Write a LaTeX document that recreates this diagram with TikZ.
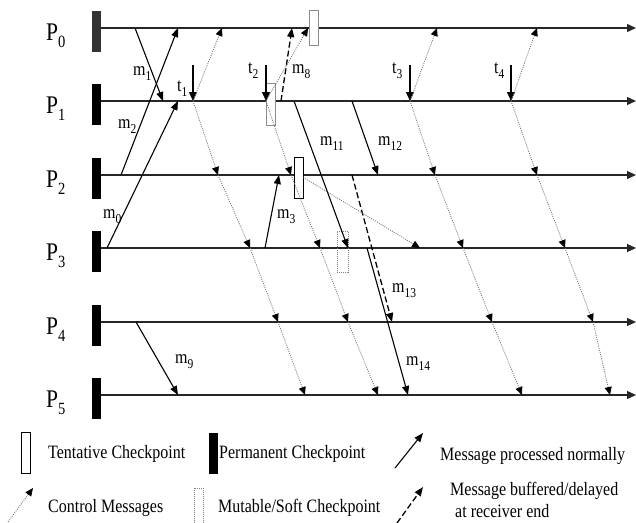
\documentclass[tikz,border=0pt]{standalone}
\usepackage{fontspec}
\usepackage{graphicx}
\setmainfont{Liberation Serif}
\usetikzlibrary{arrows.meta}
% subscripts for message/process labels, and a slightly tall text box
\newcommand\msub[1]{\raisebox{-0.28em}{\fontsize{11.5}{11.5}\selectfont #1}}
\newcommand\psub[1]{\raisebox{-0.28em}{\fontsize{14.5}{14.5}\selectfont #1}}
\newcommand\tall[1]{\scalebox{1}[1.18]{#1}}
\begin{document}
\begin{tikzpicture}[x=1pt,y=-1pt,
  proc/.style={draw=black!85,line width=1.3pt,-{Triangle[length=9pt,width=8pt]}},
  msg/.style={draw=black,line width=1.1pt,-{Triangle[length=9pt,width=7pt]}},
  tick/.style={draw=black,line width=1.3pt,-{Triangle[length=9pt,width=8pt]}},
  ctrl/.style={draw=black!55,line width=0.8pt,dash pattern=on 1pt off 1.2pt,
    -{Triangle[length=8pt,width=7pt,color=black]}},
  buff/.style={draw=black,line width=1.3pt,dash pattern=on 6pt off 3pt,
    -{Triangle[length=9pt,width=7pt]}},
  perm/.style={fill=black,draw=none,minimum width=9pt,minimum height=41pt,inner sep=0pt},
  tent/.style={fill=white,line width=0.9pt,minimum width=9pt,inner sep=0pt},
  soft/.style={draw=black!50,line width=0.8pt,dash pattern=on 1pt off 1pt,
    minimum width=11pt,minimum height=41pt,inner sep=0pt},
  plabel/.style={font=\fontsize{21.5}{21.5}\selectfont,inner sep=0pt,anchor=base west},
  mlabel/.style={font=\fontsize{16}{16}\selectfont,inner sep=0pt,anchor=base west},
  legtext/.style={font=\fontsize{16}{18}\selectfont,inner sep=0pt,anchor=base west}
]
\useasboundingbox (0,0) rectangle (636,522);

% process time lines with their permanent checkpoints
\foreach \i/\y/\c in {0/28/black!80,1/101/black,2/175/black,3/248/black,4/322/black,5/395/black} {
  \coordinate (s\i) at (101,\y);
  \coordinate (e\i) at (636,\y);
  \node[perm,fill=\c] (pc\i) at (96.5,\y+3.5) {};
  \node[plabel] (pl\i) at (46,\y+12) {\tall{P\psub{\i}}};
  \draw[proc] (s\i) -- (e\i);
}

% tentative and mutable checkpoints
\node[tent,draw=black!45,minimum height=35pt] (tc0) at (313.5,28.3) {};
\node[tent,draw=black!45,minimum height=42pt] (tc1) at (270.5,104) {};
\node[tent,draw=black,minimum height=41pt] (tc2) at (298.5,177.5) {};
\node[soft] (sc3) at (342.5,251.5) {};

% application messages
\coordinate (m1a) at (135,28);   \coordinate (m1b) at (163,101);
\coordinate (m2a) at (121,175);  \coordinate (m2b) at (178,28);
\coordinate (m0a) at (107,248);  \coordinate (m0b) at (178,101);
\coordinate (m3a) at (265,248);  \coordinate (m3b) at (279,175);
\coordinate (m9a) at (136,322);  \coordinate (m9b) at (178,395);
\coordinate (m11a) at (294,101); \coordinate (m11b) at (348,248);
\coordinate (m12a) at (352,101); \coordinate (m12b) at (378,175);
\coordinate (m14a) at (367,248); \coordinate (m14b) at (408,395);
\coordinate (m8a) at (281,101);  \coordinate (m8b) at (292,28);
\coordinate (m13a) at (352,175); \coordinate (m13b) at (392,322);
\foreach \m in {1,2,0,3,9,11,12,14} \draw[msg] (m\m a) -- (m\m b);
\draw[buff] (m8a) -- (m8b);
\draw[buff] (m13a) -- (m13b);

% checkpoint initiations t1..t4 and the control messages they spread
\foreach \k/\xa/\xz/\xb/\xc/\xd/\xe in
  {1/193/222/218/250/278/305, 2/266/308/291/320/348/378,
   3/410/437/435/463/492/522, 4/511/537/537/565/593/610} {
  \coordinate (t\k a) at (\xa,65);
  \coordinate (t\k b) at (\xa,101);
  \coordinate (c\k-0) at (\xz,28);
  \coordinate (c\k-2) at (\xb,175);
  \coordinate (c\k-3) at (\xc,248);
  \coordinate (c\k-4) at (\xd,322);
  \coordinate (c\k-5) at (\xe,395);
  \draw[tick] (t\k a) -- (t\k b);
  \draw[ctrl] (t\k b) -- (c\k-0);
  \draw[ctrl] (t\k b) -- (c\k-2);
  \draw[ctrl] (c\k-2) -- (c\k-3);
  \draw[ctrl] (c\k-3) -- (c\k-4);
  \draw[ctrl] (c\k-4) -- (c\k-5);
}
\coordinate (lg3) at (420,248);
\draw[ctrl] (tc2.east) -- (lg3);

% labels
\node[mlabel] (lm1) at (133,75) {\tall{m\msub{1}}};
\node[mlabel] (lm2) at (118,128) {\tall{m\msub{2}}};
\node[mlabel] (lm0) at (103,218) {\tall{m\msub{0}}};
\node[mlabel] (lm3) at (277,218) {\tall{m\msub{3}}};
\node[mlabel] (lm8) at (292,73) {\tall{m\msub{8}}};
\node[mlabel] (lm9) at (175,363) {\tall{m\msub{9}}};
\node[mlabel] (lm11) at (320,145) {\tall{m\msub{11}}};
\node[mlabel] (lm12) at (378,145) {\tall{m\msub{12}}};
\node[mlabel] (lm13) at (392,292) {\tall{m\msub{13}}};
\node[mlabel] (lm14) at (406,365) {\tall{m\msub{14}}};
\node[mlabel] (lt1) at (177,91) {\tall{t\msub{1}}};
\node[mlabel] (lt2) at (248,73) {\tall{t\msub{2}}};
\node[mlabel] (lt3) at (392,73) {\tall{t\msub{3}}};
\node[mlabel] (lt4) at (494,73) {\tall{t\msub{4}}};

% legend
\node[tent,draw=black,minimum height=41pt] (kT) at (25.5,452.5) {};
\node[legtext] (kTt) at (48,458) {\tall{Tentative Checkpoint}};
\node[perm] (kP) at (213,453.5) {};
\node[legtext] (kPt) at (219,458) {\tall{Permanent Checkpoint}};
\coordinate (kNa) at (395,468); \coordinate (kNb) at (423,433);
\draw[msg] (kNa) -- (kNb);
\node[legtext] (kNt) at (440,460) {\tall{Message processed normally}};
\coordinate (kCa) at (8,522); \coordinate (kCb) at (33,488);
\draw[ctrl] (kCa) -- (kCb);
\node[legtext] (kCt) at (48,512) {\tall{Control Messages}};
\node[soft,minimum width=9pt,minimum height=42pt] (kS) at (198.5,509) {};
\node[legtext] (kSt) at (218,512) {\tall{Mutable/Soft Checkpoint}};
\coordinate (kBa) at (397,523); \coordinate (kBb) at (423,487);
\draw[buff] (kBa) -- (kBb);
\node[legtext] (kBt) at (450,495) {\tall{Message buffered/delayed}};
\node[legtext] (kBt2) at (455,517) {\tall{at receiver end}};
\end{tikzpicture}
\end{document}
